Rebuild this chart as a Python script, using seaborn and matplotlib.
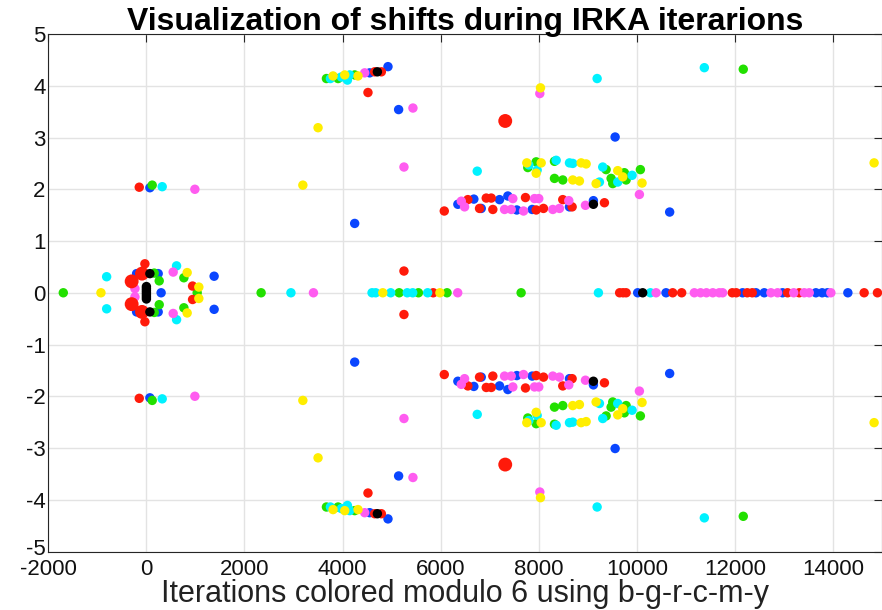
import numpy as np
import pandas as pd
import matplotlib
matplotlib.use("Agg")
import matplotlib.pyplot as plt
import matplotlib.transforms as mtransforms
import seaborn as sns
from matplotlib import font_manager

# ---------------- data (upper half-plane shifts; conjugates mirrored) ----------------
blue_up_x = [71, -200, 240, 1381, 4553, 4926, 5143, 4247, 9558, 10670, 6351, 6677, 6828,
             7201, 7370, 7553, 7867, 8627, 9115]
blue_up_y = [2.03, 0.37, 0.37, 0.32, 4.25, 4.37, 3.54, 1.34, 3.01, 1.56, 1.71, 1.81, 1.63,
             1.80, 1.87, 1.60, 1.61, 1.66, 1.78]
blue_real = [300, 10018, 10596, 12157, 12430, 12599, 12972, 13652, 13780, 13888, 14304]

green_up_x = [118, 159, 261, 764, 3671, 3908, 4247, 7777, 7948, 8321, 9374, 9747, 10073,
              8321, 8490, 9476, 9509, 9782, 12171]
green_up_y = [2.08, 0.38, 0.23, 0.29, 4.14, 4.14, 4.21, 2.42, 2.53, 2.54, 2.38, 2.32, 2.38,
              2.21, 2.18, 2.21, 2.11, 2.18, 4.32]
green_real = [-1695, 1035, 2339, 5154, 5547, 6130, 7641]

red_up_x = [-146, -31, 941, 4655, 4791, 4518, 5252, 6074, 6555, 6793, 6930, 7032, 7064,
            7730, 7948, 8097, 8490, 8681, 9340]
red_up_y = [2.04, 0.56, 0.13, 4.27, 4.27, 3.87, 0.42, 1.58, 1.80, 1.63, 1.83, 1.83, 1.61,
            1.84, 1.60, 1.63, 1.80, 1.66, 1.74]
red_real = [5849, 9650, 9720, 9782, 10732, 10915, 11947, 12028, 12252, 12354, 13074, 13312,
            14636, 14907]
red_big_up_x = [-90, -301, 7317]
red_big_up_y = [0.37, 0.22, 3.32]

cyan_up_x = [322, 615, -811, 3752, 3976, 4099, 4145, 9191, 11377, 6746, 7798, 7968, 8356,
             8627, 8694, 9305, 9904, 9238, 9611]
cyan_up_y = [2.05, 0.52, 0.31, 4.14, 4.17, 4.11, 4.21, 4.14, 4.35, 2.35, 2.47, 2.37, 2.56,
             2.51, 2.50, 2.43, 2.27, 2.14, 2.14]
cyan_real = [2947, 4601, 4675, 4981, 5319, 5430, 5735, 9217, 10277]

magenta_up_x = [988, -234, 546, 4451, 5435, 5252, 8022, 10053, 6421, 6488, 7303, 7439, 7472,
                7690, 7914, 8001, 8287, 8423, 8613, 8953]
magenta_up_y = [2.00, 0.08, 0.40, 4.25, 3.57, 2.43, 3.85, 1.90, 1.77, 1.66, 1.61, 1.61, 1.82,
                1.58, 1.82, 1.82, 1.61, 1.63, 1.78, 1.69]
magenta_real = [3406, 6348, 10393, 11173, 11300, 11420, 11550, 11680, 11750, 12735, 12870,
                13200, 13414, 13516, 13957]

yellow_up_x = [831, 1069, 3190, 3500, 3806, 4044, 4315, 8036, 14839, 7757, 7948, 8050, 8865,
               8967, 9611, 9713, 10107, 8694, 8830, 9170]
yellow_up_y = [0.39, 0.11, 2.08, 3.19, 4.19, 4.21, 4.19, 3.96, 2.51, 2.51, 2.31, 2.51, 2.51,
               2.49, 2.36, 2.24, 2.12, 2.18, 2.16, 2.11]
yellow_real = [-927, 4820, 5985]

black_up_x = [71, 4710, 9115, 0, 0, 0]
black_up_y = [0.37, 4.27, 1.71, 0.04, 0.08, 0.12]
black_real = [0, 10120]

x_ticks = [-2000, 0, 2000, 4000, 6000, 8000, 10000, 12000, 14000]
y_ticks = [-5, -4, -3, -2, -1, 0, 1, 2, 3, 4, 5]
title_text = "Visualization of shifts during IRKA iterarions"
xlabel_text = "Iterations colored modulo 6 using b-g-r-c-m-y"

# ---------------- build tables ----------------
def conj_table(name, up_x, up_y, real_x):
    xs = list(up_x) + list(up_x) + list(real_x)
    ys = list(up_y) + [-v for v in up_y] + [0.0] * len(real_x)
    return pd.DataFrame({"x": xs, "y": ys, "c": name})

df = pd.concat([
    conj_table("b", blue_up_x, blue_up_y, blue_real),
    conj_table("g", green_up_x, green_up_y, green_real),
    conj_table("r", red_up_x, red_up_y, red_real),
    conj_table("c", cyan_up_x, cyan_up_y, cyan_real),
    conj_table("m", magenta_up_x, magenta_up_y, magenta_real),
    conj_table("y", yellow_up_x, yellow_up_y, yellow_real),
], ignore_index=True)
df_big = conj_table("r", red_big_up_x, red_big_up_y, [])
df_black = conj_table("k", black_up_x, black_up_y, black_real)

palette = {"b": "#0a46ff", "g": "#22e000", "r": "#ff1a0a", "c": "#00f2ff",
           "m": "#ff5cf0", "y": "#ffee00", "k": "#000000"}

# ---------------- style ----------------
sns.set_style("white")
avail = {f.name for f in font_manager.fontManager.ttflist}
fam = "Liberation Sans" if "Liberation Sans" in avail else "DejaVu Sans"
plt.rcParams["font.family"] = [fam, "DejaVu Sans"]

fig = plt.figure(figsize=(8.82, 6.10), dpi=100)
ax = fig.add_axes([0.0548, 0.0959, 0.9452, 0.8483])

sns.scatterplot(data=df, x="x", y="y", hue="c", palette=palette, s=46, linewidth=0,
                legend=False, ax=ax, zorder=3)
sns.scatterplot(data=df_big, x="x", y="y", hue="c", palette=palette, s=100, linewidth=0,
                legend=False, ax=ax, zorder=3)
sns.scatterplot(data=df_black, x="x", y="y", hue="c", palette=palette, s=46, linewidth=0,
                legend=False, ax=ax, zorder=4)

ax.set_xlim(-2000, 15000)
ax.set_ylim(-5, 5)
ax.set_xticks(x_ticks)
ax.set_yticks(y_ticks)
ax.set_xticklabels([str(v) for v in x_ticks])
ax.set_yticklabels([str(v) for v in y_ticks])
ax.grid(True, color="#e3e3e3", linewidth=1.0, zorder=0)
ax.set_axisbelow(True)
for s in ax.spines.values():
    s.set_color("#262626")
    s.set_linewidth(0.8)
ax.tick_params(direction="in", length=6, width=0.8, color="#262626",
               labelsize=16, labelcolor="#111111", top=True, right=True, pad=2)
ax.tick_params(axis="x", pad=5.5)
# nudge the lowest y label up slightly so it does not touch "-2000"
lowest = ax.get_yticklabels()[0]
lowest.set_transform(lowest.get_transform() +
                     mtransforms.ScaledTranslation(0, 3 / 72, fig.dpi_scale_trans))
ax.set_xlabel(xlabel_text, fontsize=22, color="#222222")
ax.xaxis.label.set_va("baseline")
ax.xaxis.set_label_coords(0.5, -0.0975)
ax.set_ylabel("")
ax.set_title(title_text, fontsize=23, fontweight="bold", pad=3, color="#000000")

fig.savefig("out.png", dpi=100)
